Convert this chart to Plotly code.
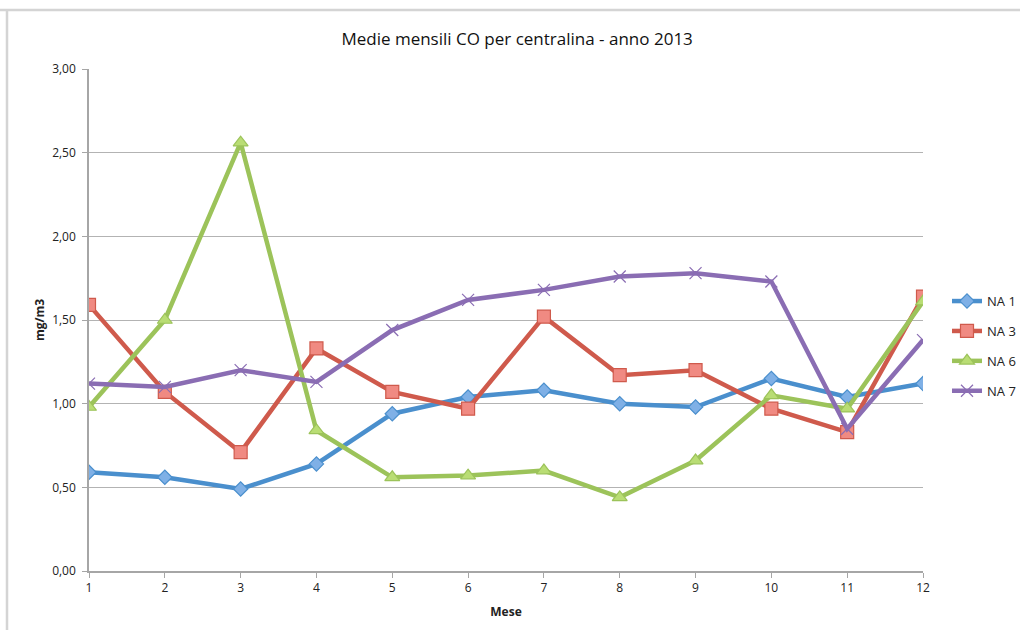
import plotly.graph_objects as go

# Monthly mean CO concentrations (mg/m3) per monitoring station, 2013
months = list(range(1, 13))
na1 = [0.59, 0.56, 0.49, 0.64, 0.94, 1.04, 1.08, 1.00, 0.98, 1.15, 1.04, 1.12]
na3 = [1.59, 1.07, 0.71, 1.33, 1.07, 0.97, 1.52, 1.17, 1.20, 0.97, 0.83, 1.64]
na6 = [0.98, 1.50, 2.56, 0.84, 0.56, 0.57, 0.60, 0.44, 0.66, 1.05, 0.97, 1.61]
na7 = [1.12, 1.10, 1.20, 1.13, 1.44, 1.62, 1.68, 1.76, 1.78, 1.73, 0.85, 1.38]

series = [
    ("NA 1", na1, "#4a8fcd", "#7fb0e6", "diamond", 11),
    ("NA 3", na3, "#cf5a4c", "#f08a82", "square", 13),
    ("NA 6", na6, "#9cc35a", "#b9dd74", "triangle-up", 13),
    ("NA 7", na7, "#8a6db3", "#8a6db3", "x-thin", 12),
]

fig = go.Figure()
for name, vals, line_col, fill_col, symbol, size in series:
    fig.add_trace(go.Scatter(
        x=months, y=vals, name=name, mode="lines+markers",
        legendgroup=name,
        line=dict(color=line_col, width=4.5),
        marker=dict(symbol=symbol, size=size, color=fill_col,
                    line=dict(color=line_col, width=1.2)),
    ))

font_family = "Open Sans, Liberation Sans, sans-serif"

fig.update_layout(
    width=1020, height=630,
    margin=dict(l=89, r=97, t=69, b=59, autoexpand=False),
    paper_bgcolor="white", plot_bgcolor="white",
    separators=",.",
    font=dict(family=font_family, size=12, color="#222"),
    title=dict(text="Medie mensili CO per centralina - anno 2013",
               x=0.507, xref="container", y=0.938, yref="container",
               xanchor="center", yanchor="middle",
               font=dict(size=17, color="#111")),
    xaxis=dict(range=[1, 12], tickmode="array", tickvals=months,
               showgrid=False, zeroline=False,
               showline=True, linecolor="#a6a6a6", linewidth=1.5,
               ticks="outside", ticklen=5, tickcolor="#a6a6a6",
               tickfont=dict(size=12),
               title=dict(text="<b>Mese</b>", font=dict(size=12), standoff=12)),
    yaxis=dict(range=[0, 3], tickvals=[0, 0.5, 1, 1.5, 2, 2.5, 3],
               tickformat=".2f",
               showgrid=True, gridcolor="#b3b3b3", gridwidth=1.2,
               zeroline=False,
               showline=True, linecolor="#a6a6a6", linewidth=1.5,
               ticks="outside", ticklen=5, tickcolor="#a6a6a6",
               tickfont=dict(size=12), ticklabelstandoff=4,
               title=dict(text="<b>mg/m3</b>", font=dict(size=12), standoff=5)),
    legend=dict(x=(947 - 89) / 834, y=0.448, xanchor="left", yanchor="middle",
                tracegroupgap=10, font=dict(size=13),
                bgcolor="rgba(0,0,0,0)"),
    showlegend=True,
)

# Light frame around the chart area
fig.add_shape(type="line", xref="paper", yref="paper",
              x0=-89 / 834, x1=1.2, y0=1 + 59 / 502, y1=1 + 59 / 502,
              line=dict(color="#d4d4d4", width=2.5))
fig.add_shape(type="line", xref="paper", yref="paper",
              x0=-82 / 834, x1=-82 / 834, y0=-0.2, y1=1 + 59 / 502,
              line=dict(color="#d4d4d4", width=2.5))

fig.write_html("out.html")
